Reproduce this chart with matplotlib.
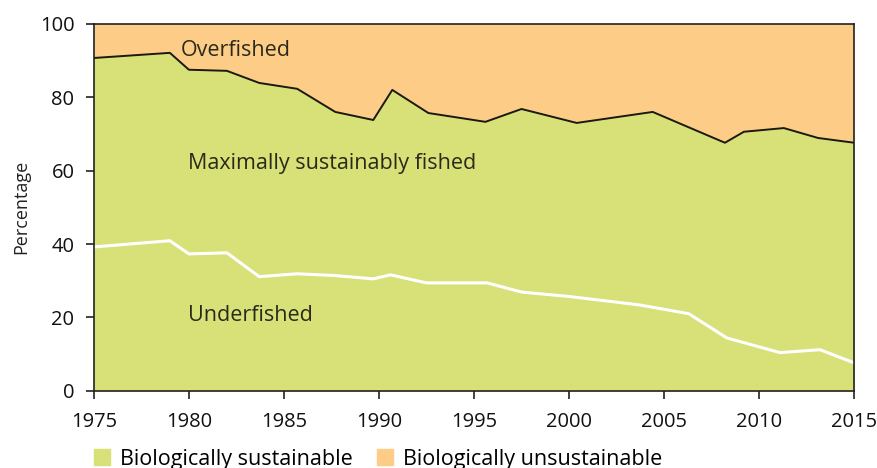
import matplotlib
matplotlib.use("Agg")
import matplotlib.pyplot as plt
from matplotlib.patches import Patch
from matplotlib import font_manager

# Data
top_years = [1975, 1979, 1980, 1982, 1983.7, 1985.7, 1987.7, 1989.7, 1990.7, 1992.6,
             1995.6, 1997.5, 2000.4, 2004.4, 2008.2, 2009.2, 2011.3, 2013.1, 2015]
sustainable = [90.7, 92.1, 87.5, 87.2, 83.9, 82.3, 76.0, 73.8, 82.0, 75.7,
               73.3, 76.8, 73.0, 76.0, 67.6, 70.6, 71.6, 68.9, 67.6]
under_years = [1975, 1979, 1980, 1982, 1983.7, 1985.7, 1987.7, 1989.7, 1990.6, 1992.5,
               1995.7, 1997.5, 2000, 2003.7, 2006.3, 2008.3, 2011.1, 2013.2, 2015]
underfished = [39.2, 40.9, 37.3, 37.6, 31.1, 31.9, 31.4, 30.5, 31.6, 29.4,
               29.4, 26.9, 25.7, 23.4, 21.0, 14.4, 10.4, 11.2, 7.6]
xticks = [1975, 1980, 1985, 1990, 1995, 2000, 2005, 2010, 2015]
yticks = [0, 20, 40, 60, 80, 100]
legend_labels = ["Biologically sustainable", "Biologically unsustainable"]
region_labels = ["Overfished", "Maximally sustainably fished", "Underfished"]

green = "#d8e078"
orange = "#fdcd88"
txt = "#2a2a1a"

avail = {f.name for f in font_manager.fontManager.ttflist}
main_font = "Open Sans" if "Open Sans" in avail else "DejaVu Sans"

fig = plt.figure(figsize=(8.77, 4.68), dpi=100)
ax = fig.add_axes([0.107, 0.165, 0.867, 0.784])

ax.fill_between([1975, 2015], 0, 100, color=orange, lw=0)
ax.fill_between(top_years, 0, sustainable, color=green, lw=0)
ax.plot(top_years, sustainable, color="#1a1a10", lw=1.4)
ax.plot(under_years, underfished, color="white", lw=2.2)

ax.set_xlim(1975, 2015)
ax.set_ylim(0, 100)
ax.set_xticks(xticks)
ax.set_yticks(yticks)
ax.set_xticklabels([str(x) for x in xticks], fontsize=14.5, family=main_font, color="#111")
ax.set_yticklabels([str(y) for y in yticks], fontsize=14.5, family=main_font, color="#111")
ax.tick_params(axis="y", direction="out", length=6, width=1.2, color="#222", pad=8)
ax.tick_params(axis="x", direction="out", length=6, width=1.2, color="#222", pad=9)
for s in ax.spines.values():
    s.set_color("#222")
    s.set_linewidth(1.2)
ax.set_ylabel("Percentage", fontsize=13, family=main_font, color="#222", labelpad=7)

ax.text(1975 + (181 - 94) / 19, 92.8, region_labels[0], fontsize=15.5, family=main_font,
        color=txt, va="center")
ax.text(1975 + (188 - 94) / 19, 62, region_labels[1], fontsize=15.5, family=main_font,
        color=txt, va="center")
ax.text(1975 + (188 - 94) / 19, 20.5, region_labels[2], fontsize=15.5, family=main_font,
        color=txt, va="center")

handles = [Patch(color=green), Patch(color=orange)]
fig.legend(handles, legend_labels, loc="lower left", bbox_to_anchor=(0.085, -0.045),
           ncol=2, frameon=False, handlelength=0.75, handleheight=0.75, handletextpad=0.45,
           columnspacing=1.15, prop={"family": main_font, "size": 15.5})

fig.savefig("out.png", dpi=100)
